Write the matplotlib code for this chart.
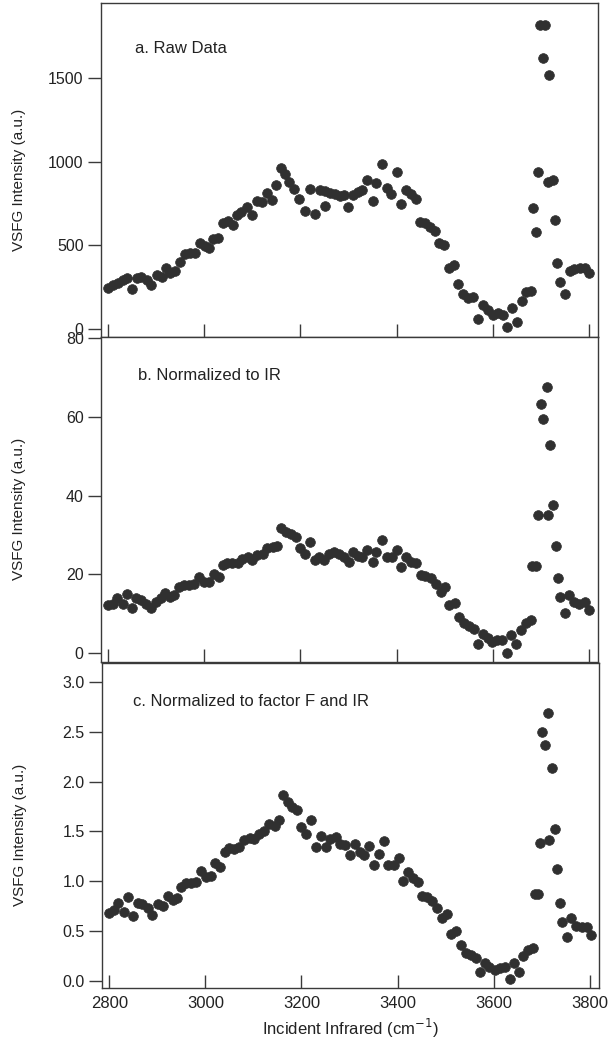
import matplotlib
matplotlib.use("Agg")
import matplotlib.pyplot as plt

plt.rcParams['font.family'] = ['Liberation Sans', 'DejaVu Sans']

# ---- Panel a: raw data ----
x_raw = [2800, 2810, 2821, 2831, 2840, 2850, 2859, 2869, 2880, 2890, 2901, 2911, 2920, 2928,
         2939, 2949, 2960, 2970, 2980, 2991, 3001, 3010, 3019, 3029, 3039, 3050, 3060, 3067,
         3077, 3088, 3100, 3109, 3119, 3130, 3140, 3150, 3159, 3168, 3177, 3186, 3197, 3209,
         3220, 3230, 3240, 3250, 3251, 3261, 3272, 3282, 3290, 3299, 3310, 3320, 3329, 3338,
         3350, 3358, 3370, 3379, 3389, 3400, 3410, 3419, 3430, 3440, 3449, 3459, 3469, 3480,
         3489, 3499, 3509, 3519, 3528, 3539, 3549, 3559, 3569, 3580, 3591, 3600, 3610, 3621,
         3629, 3640, 3650, 3661, 3670, 3680, 3684, 3690, 3695, 3698, 3704, 3709, 3714, 3718,
         3725, 3730, 3734, 3739, 3750, 3761, 3770, 3781, 3791, 3800]
y_raw = [243, 262, 276, 292, 306, 239, 302, 312, 292, 262, 322, 312, 366, 336,
         348, 402, 448, 452, 452, 511, 495, 481, 535, 541, 631, 646, 621, 680,
         700, 726, 680, 766, 760, 814, 770, 859, 963, 929, 879, 839, 774, 706,
         839, 686, 829, 736, 823, 813, 806, 794, 800, 730, 800, 819, 833, 889,
         766, 873, 988, 845, 809, 939, 746, 833, 806, 774, 640, 634, 607, 585,
         511, 501, 362, 382, 269, 209, 183, 193, 60, 143, 113, 84, 97, 84,
         14, 123, 44, 167, 223, 229, 720, 577, 939, 1815, 1622, 1815, 879, 1517,
         889, 651, 393, 283, 209, 348, 356, 362, 366, 332]

# ---- Panel b: normalized to IR ----
x_ir = [2800, 2809, 2819, 2830, 2840, 2849, 2858, 2868, 2878, 2889, 2899, 2910, 2918, 2928,
        2937, 2948, 2958, 2968, 2979, 2989, 3000, 3010, 3020, 3031, 3038, 3048, 3058, 3069,
        3079, 3090, 3100, 3110, 3121, 3131, 3142, 3152, 3159, 3170, 3180, 3190, 3198, 3209,
        3219, 3230, 3239, 3249, 3260, 3270, 3280, 3291, 3300, 3309, 3320, 3329, 3339, 3350,
        3358, 3369, 3380, 3390, 3400, 3410, 3419, 3430, 3440, 3450, 3460, 3471, 3481, 3492,
        3501, 3510, 3521, 3530, 3540, 3551, 3561, 3570, 3580, 3590, 3599, 3609, 3620, 3630,
        3639, 3649, 3659, 3670, 3680, 3682, 3689, 3694, 3700, 3705, 3712, 3716, 3719, 3726,
        3731, 3736, 3740, 3751, 3759, 3770, 3780, 3791, 3801]
y_ir = [12.2, 12.6, 13.9, 12.5, 15.0, 11.6, 13.9, 13.5, 12.6, 11.6, 13.1, 13.9, 15.2, 14.3,
        14.8, 16.7, 17.3, 17.3, 17.7, 19.4, 18.1, 18.1, 20.2, 19.4, 22.4, 22.8, 22.8, 22.8,
        23.8, 24.5, 23.6, 24.9, 25.3, 26.6, 27.0, 27.2, 31.9, 30.8, 30.2, 29.4, 26.6, 25.3,
        28.3, 23.6, 24.5, 23.6, 25.3, 25.8, 25.2, 24.5, 23.2, 25.8, 24.6, 24.5, 26.3, 23.2,
        25.8, 28.7, 24.5, 24.5, 26.3, 21.9, 24.5, 23.2, 23.0, 19.8, 19.6, 19.0, 17.5, 15.6,
        16.9, 12.2, 12.8, 9.3, 7.7, 6.9, 6.1, 2.3, 4.9, 3.8, 2.9, 3.3, 3.3, 0.1,
        4.6, 2.3, 5.9, 7.6, 8.4, 22.1, 22.1, 35.0, 63.2, 59.3, 67.4, 35.0, 52.8, 37.6,
        27.2, 19.0, 14.3, 10.3, 14.8, 13.1, 12.6, 13.1, 11.1]

# ---- Panel c: normalized to factor F and IR ----
x_f = [2800, 2810, 2819, 2830, 2840, 2850, 2859, 2869, 2880, 2890, 2901, 2911, 2922, 2932,
       2940, 2949, 2960, 2970, 2981, 2991, 3001, 3012, 3021, 3031, 3040, 3050, 3060, 3071,
       3081, 3092, 3102, 3112, 3123, 3133, 3144, 3153, 3161, 3172, 3181, 3190, 3199, 3210,
       3220, 3231, 3241, 3250, 3260, 3271, 3281, 3290, 3300, 3311, 3321, 3331, 3340, 3351,
       3361, 3371, 3381, 3392, 3402, 3411, 3421, 3432, 3442, 3451, 3462, 3472, 3482, 3492,
       3503, 3512, 3522, 3531, 3542, 3552, 3563, 3572, 3581, 3591, 3602, 3612, 3623, 3633,
       3642, 3652, 3661, 3671, 3682, 3685, 3692, 3696, 3701, 3706, 3713, 3716, 3721, 3728,
       3732, 3737, 3742, 3752, 3761, 3772, 3783, 3793, 3803]
y_f = [0.685, 0.71, 0.785, 0.695, 0.845, 0.65, 0.78, 0.77, 0.73, 0.66, 0.77, 0.75, 0.85, 0.81,
       0.83, 0.94, 0.98, 0.985, 0.995, 1.105, 1.045, 1.05, 1.185, 1.14, 1.295, 1.33, 1.32, 1.345,
       1.41, 1.43, 1.42, 1.47, 1.50, 1.58, 1.56, 1.62, 1.87, 1.80, 1.75, 1.72, 1.54, 1.47,
       1.62, 1.345, 1.45, 1.34, 1.42, 1.44, 1.37, 1.36, 1.26, 1.37, 1.295, 1.26, 1.35, 1.16,
       1.27, 1.40, 1.16, 1.16, 1.23, 1.005, 1.095, 1.03, 0.995, 0.85, 0.84, 0.805, 0.73, 0.63,
       0.67, 0.47, 0.505, 0.36, 0.285, 0.26, 0.235, 0.095, 0.185, 0.145, 0.115, 0.135, 0.145, 0.02,
       0.185, 0.095, 0.25, 0.315, 0.335, 0.87, 0.87, 1.385, 2.50, 2.365, 2.69, 1.41, 2.14, 1.52,
       1.12, 0.785, 0.595, 0.44, 0.63, 0.55, 0.54, 0.54, 0.46]

panel_titles = ["a. Raw Data", "b. Normalized to IR", "c. Normalized to factor F and IR"]
y_ticks_a = [0, 500, 1000, 1500]
y_ticks_b = [0, 20, 40, 60, 80]
y_ticks_c = [0.0, 0.5, 1.0, 1.5, 2.0, 2.5, 3.0]
x_ticks = [2800, 3000, 3200, 3400, 3600, 3800]

W, H = 613, 1054
fig = plt.figure(figsize=(W / 100, H / 100), dpi=100)

def frac(left, top, right, bottom):
    return [left / W, 1 - bottom / H, (right - left) / W, (bottom - top) / H]

ax_a = fig.add_axes(frac(101, 3, 598, 337))
ax_b = fig.add_axes(frac(101, 337, 598, 662))
ax_c = fig.add_axes(frac(102, 663, 599, 988))

mcol = '#303030'
spine_col = '#3a3a3a'
datasets = [(ax_a, x_raw, y_raw, y_ticks_a, (-48, 1948), [str(v) for v in y_ticks_a]),
            (ax_b, x_ir, y_ir, y_ticks_b, (-2.2, 80.2), [str(v) for v in y_ticks_b]),
            (ax_c, x_f, y_f, y_ticks_c, (-0.07, 3.19), ["%.1f" % v for v in y_ticks_c])]

caption_pos = [(0.068, 0.865), (0.074, 0.883), (0.062, 0.880)]

for i, (ax, xs, ys, yt, yl, ytl) in enumerate(datasets):
    ax.plot(xs, ys, linestyle='none', marker='o', markersize=7.0,
            color=mcol, markeredgecolor=mcol, markeredgewidth=0.5)
    ax.set_xlim(2785, 3819)
    ax.set_ylim(*yl)
    ax.set_yticks(yt)
    ax.set_yticklabels(ytl)
    ax.set_xticks(x_ticks)
    ax.tick_params(axis='x', direction='in', length=9.5, width=1.0, color=spine_col,
                   labelsize=12, pad=6, labelcolor='#222222')
    ax.tick_params(axis='y', direction='out', length=9.5, width=1.0, color=spine_col,
                   labelsize=11.5, pad=3, labelcolor='#222222')
    if i < 2:
        ax.tick_params(axis='x', labelbottom=False)
    for s in ax.spines.values():
        s.set_color(spine_col)
        s.set_linewidth(1.0)
    ax.set_ylabel("VSFG Intensity (a.u.)", fontsize=11, color='#222222')
    ax.yaxis.set_label_coords(-0.15, 0.47)
    ax.text(caption_pos[i][0], caption_pos[i][1], panel_titles[i], transform=ax.transAxes,
            fontsize=12, color='#222222', ha='left', va='center')

ax_c.set_xlabel("Incident Infrared (cm$^{-1}$)", fontsize=12, color='#222222', labelpad=4)

fig.savefig("out.png", dpi=100)
